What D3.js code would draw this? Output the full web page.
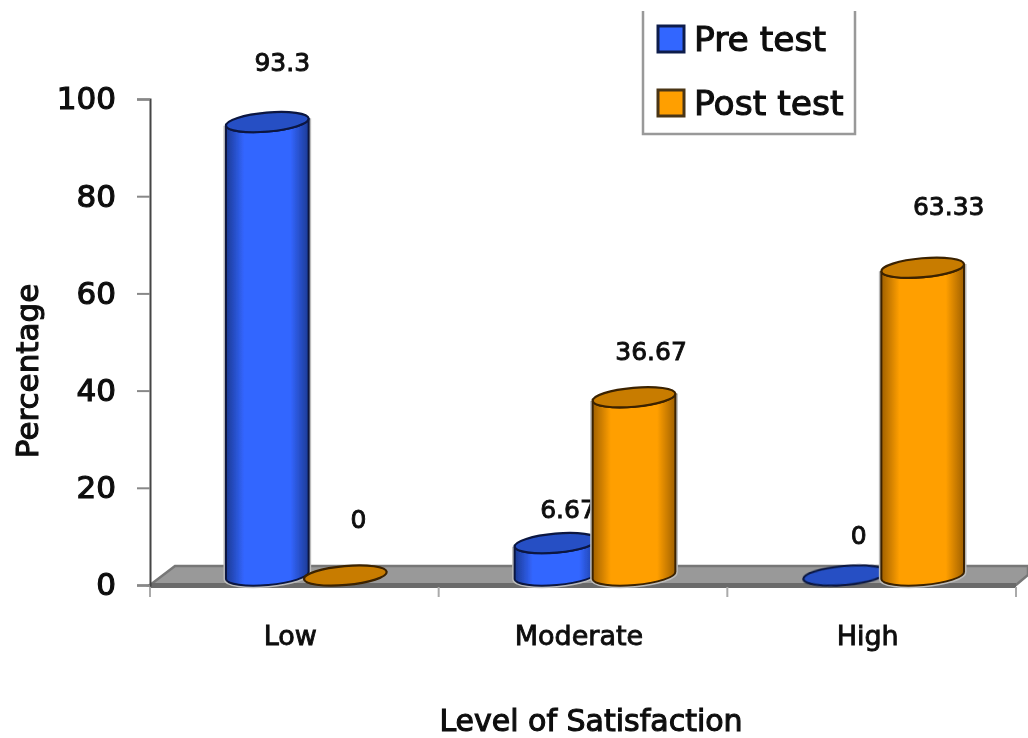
<!DOCTYPE html>
<html>
<head>
<meta charset="utf-8">
<script src="https://cdn.jsdelivr.net/npm/d3@7"></script>
<style>
  html, body { margin: 0; padding: 0; background: #fff; }
  svg { display: block; }
  text { font-family: "DejaVu Sans", sans-serif; fill: #0d0d0d; stroke: #0d0d0d; stroke-width: 0.9px; }
</style>
</head>
<body>
<svg id="chart" width="1028" height="738"></svg>
<script>
"use strict";

// values
const categories = [ 'Low', 'Moderate', 'High' ];
const seriesNames = [ 'Pre test', 'Post test' ];
const preTest  = [ 93.3, 6.67, 0 ];
const postTest = [ 0, 36.67, 63.33 ];
const yTicks = [ 0, 20, 40, 60, 80, 100 ];
const preLabels  = [ '93.3', '6.67', '0' ];
const postLabels = [ '0', '36.67', '63.33' ];

// hand-placed data labels in the original: offset from the bar top
const preNudge  = [ [ 15, -60 ], [ 12, -34 ], [ 14, -40 ] ];
const postNudge = [ [ 13, -56 ], [ 17, -46 ], [ 26, -61 ] ];

const svg = d3.select( '#chart' );
const defs = svg.append( 'defs' );

// the reference is a soft, upscaled image
const soft = defs.append( 'filter' ).attr( 'id', 'soft' );
soft.append( 'feGaussianBlur' ).attr( 'stdDeviation', 0.7 );

const palette = [
  { main: '#3366ff', dark: '#1c3a94', top: '#2650c4', edge: '#081640' },
  { main: '#ff9f00', dark: '#a06000', top: '#c87c00', edge: '#3a2200' }
];

palette.forEach( (c, i) => {
  const grad = defs.append( 'linearGradient' ).attr( 'id', 'cyl' + i );
  [ [ 0, c.dark ], [ 0.22, c.main ], [ 0.78, c.main ], [ 1, c.dark ] ].forEach( (s) => {
    grad.append( 'stop' ).attr( 'offset', s[0] ).attr( 'stop-color', s[1] );
  });
});

// scales
const x = d3.scaleBand().domain( categories ).range( [ 150, 1016 ] );
const x2 = d3.scaleBand().domain( seriesNames ).range( [ 0, 160 ] ).paddingInner( -0.05 );
const y = d3.scaleLinear().domain( [ 0, 100 ] ).range( [ 585, 99 ] );

// 3d look: bars stand back from the axis plane
const depthX = 25, depthY = 19;
const rx = 41.5, ry = 9.5, tilt = 5;

const root = svg.append( 'g' ).attr( 'filter', 'url(#soft)' );

// floor
const floorRight = 1028;
root.append( 'path' )
  .attr( 'd', 'M' + x.range()[0] + ',' + y(0)
    + 'L' + ( x.range()[0] + depthX ) + ',' + ( y(0) - depthY )
    + 'L' + floorRight + ',' + ( y(0) - depthY )
    + 'L' + floorRight + ',' + ( y(0) - 10 )
    + 'L' + x.range()[1] + ',' + y(0) + 'Z' )
  .attr( 'fill', '#999' )
  .attr( 'stroke', '#777' )
  .attr( 'stroke-width', 2.5 );
root.append( 'rect' )
  .attr( 'x', x.range()[0] ).attr( 'y', y(0) - 2 )
  .attr( 'width', x.range()[1] - x.range()[0] ).attr( 'height', 5 )
  .attr( 'fill', '#6a6a6a' );

// y-axis
const yAxis = root.append( 'g' )
  .attr( 'transform', 'translate(' + x.range()[0] + ',0)' )
  .call( d3.axisLeft( y ).tickValues( yTicks ).tickSize( 13 ).tickPadding( 21 ) );
yAxis.selectAll( 'line' ).attr( 'stroke', '#888' ).attr( 'stroke-width', 2 );
yAxis.select( 'path' ).attr( 'stroke', '#444' ).attr( 'stroke-width', 2 );
yAxis.selectAll( 'text' )
  .style( 'font-size', '31px' ).style( 'stroke-width', '1.2px' );

// x-axis
const xAxis = root.append( 'g' )
  .attr( 'transform', 'translate(0,' + ( y(0) + 2 ) + ')' )
  .call( d3.axisBottom( x ).tickSize( 0 ).tickPadding( 39 ) );
xAxis.select( 'path' ).remove();
xAxis.selectAll( 'text' ).style( 'font-size', '27px' ).attr( 'dx', -4 );
xAxis.selectAll( '.sep' )
  .data( [ 0, 1, 2, 3 ] )
  .enter().append( 'line' )
    .attr( 'class', 'sep' )
    .attr( 'x1', (d) => x.range()[0] + d * x.step() )
    .attr( 'x2', (d) => x.range()[0] + d * x.step() )
    .attr( 'y1', 0 ).attr( 'y2', 10 )
    .attr( 'stroke', '#aaa' ).attr( 'stroke-width', 2 );

// axis titles
root.append( 'text' )
  .attr( 'transform', 'translate(38,371) rotate(-90)' )
  .attr( 'text-anchor', 'middle' )
  .style( 'font-size', '31px' ).style( 'stroke-width', '1.1px' )
  .text( 'Percentage' );
root.append( 'text' )
  .attr( 'x', 591 ).attr( 'y', 731 )
  .attr( 'text-anchor', 'middle' )
  .style( 'font-size', '30px' ).style( 'stroke-width', '1.1px' )
  .text( 'Level of Satisfaction' );

// one cylinder, from the base centre up to the value
function cylinderBody( cx, yTop, yBase ) {
  const dx = rx * Math.cos( tilt * Math.PI / 180 ),
        dy = rx * Math.sin( tilt * Math.PI / 180 );
  return 'M' + ( cx - dx ) + ',' + ( yTop + dy )
    + 'L' + ( cx - dx ) + ',' + ( yBase + dy )
    + 'A' + rx + ',' + ry + ' ' + ( -tilt ) + ' 0 0 ' + ( cx + dx ) + ',' + ( yBase - dy )
    + 'L' + ( cx + dx ) + ',' + ( yTop - dy )
    + 'A' + rx + ',' + ry + ' ' + ( -tilt ) + ' 0 1 ' + ( cx - dx ) + ',' + ( yTop + dy ) + 'Z';
}

const series = [
  { name: seriesNames[0], values: preTest, labels: preLabels, nudge: preNudge },
  { name: seriesNames[1], values: postTest, labels: postLabels, nudge: postNudge }
];

// bars, in paint order; labels go with their bar so a later bar can cover them
categories.forEach( (cat, c) => {
  series.forEach( (s, i) => {
    const cx = x( cat ) + x.bandwidth() / 2 - 80 + x2( s.name ) + x2.bandwidth() / 2 + 12;
    const v = s.values[c];
    const yBase = y(0) - 9.5,
          yTop  = y( v ) - 9.5;
    const g = root.append( 'g' );

    if( v > 0 ) {
      // pale halo round the bar
      g.append( 'path' )
        .attr( 'd', cylinderBody( cx, yTop, yBase ) )
        .attr( 'fill', 'none' )
        .attr( 'stroke', '#bbb' )
        .attr( 'stroke-width', 5 );
      g.append( 'path' )
        .attr( 'd', cylinderBody( cx, yTop, yBase ) )
        .attr( 'fill', 'url(#cyl' + i + ')' )
        .attr( 'stroke', palette[i].edge )
        .attr( 'stroke-width', 2 );
    }
    g.append( 'ellipse' )
      .attr( 'cx', cx ).attr( 'cy', yTop )
      .attr( 'rx', rx ).attr( 'ry', ry )
      .attr( 'transform', 'rotate(' + ( -tilt ) + ' ' + cx + ' ' + yTop + ')' )
      .attr( 'fill', palette[i].top )
      .attr( 'stroke', palette[i].edge )
      .attr( 'stroke-width', 2.2 );

    g.append( 'text' )
      .attr( 'x', cx + s.nudge[c][0] )
      .attr( 'y', yTop + s.nudge[c][1] )
      .attr( 'dy', '0.35em' )
      .attr( 'text-anchor', 'middle' )
      .style( 'font-size', '25px' )
      .text( s.labels[c] );
  });
});

// legend, clipped at the top like the original
const legend = root.append( 'g' );
legend.append( 'path' )
  .attr( 'd', 'M643,11V134H855V11' )
  .attr( 'fill', '#fff' )
  .attr( 'stroke', '#999' )
  .attr( 'stroke-width', 2.5 );

const legendRow = d3.scalePoint().domain( seriesNames ).range( [ 39, 103 ] );
seriesNames.forEach( (name, i) => {
  legend.append( 'rect' )
    .attr( 'x', 658 ).attr( 'y', legendRow( name ) - 13 )
    .attr( 'width', 26 ).attr( 'height', 26 )
    .attr( 'fill', palette[i].main )
    .attr( 'stroke', i ? '#4a3413' : '#0f1e4c' )
    .attr( 'stroke-width', 3 );
  legend.append( 'text' )
    .attr( 'x', 694 ).attr( 'y', legendRow( name ) )
    .attr( 'dy', '0.36em' )
    .style( 'font-size', '34.5px' ).style( 'stroke-width', '1.1px' )
    .text( name );
});
</script>
</body>
</html>
